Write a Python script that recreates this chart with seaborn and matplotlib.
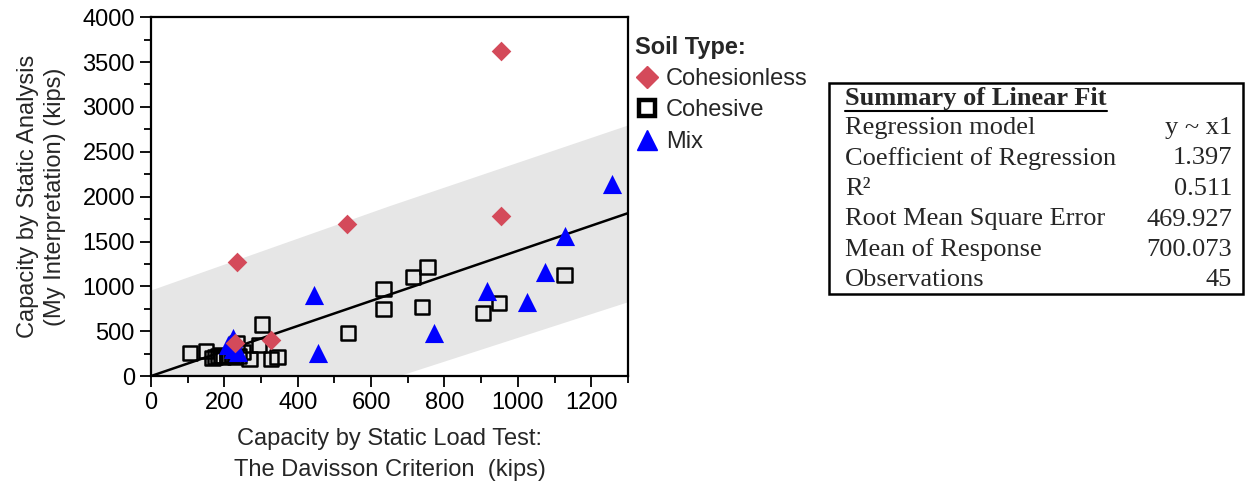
import numpy as np
import pandas as pd
import seaborn as sns
import matplotlib.pyplot as plt
from matplotlib.patches import Rectangle
from matplotlib.lines import Line2D
from matplotlib.ticker import MultipleLocator

sns.set_style("ticks")
plt.rcParams['font.family'] = ['Liberation Sans', 'DejaVu Sans']

# Cohesionless (diamonds)
cl_x = [955, 955, 535, 234, 327, 228]
cl_y = [3620, 1780, 1690, 1270, 402, 365]

# Cohesive (open squares)
co_x = [107, 150, 168, 182, 196, 207, 235, 250, 241, 269, 295, 302, 328, 345,
        537, 634, 634, 715, 754, 738, 905, 948, 1127, 175, 190, 220, 230]
co_y = [260, 280, 198, 223, 216, 223, 365, 272, 223, 190, 346, 575, 190, 212,
        477, 969, 745, 1103, 1214, 767, 700, 812, 1125, 210, 230, 240, 210]

# Mix (triangles)
mx_x = [1257, 1128, 1074, 1025, 917, 772, 444, 455, 223, 210, 237, 225]
mx_y = [2142, 1564, 1165, 830, 950, 484, 905, 260, 421, 346, 272, 300]

# fit line and prediction band
slope = 1.397
fit_x = [0, 1300]
band_x = [0, 650, 1300]
band_lo = [-960, -30, 830]
band_hi = [960, 1900, 2800]

summary_labels = ["Regression model", "Coefficient of Regression", "R²",
                  "Root Mean Square Error", "Mean of Response", "Observations"]
summary_values = ["y ~ x1", "1.397", "0.511", "469.927", "700.073", "45"]

df = pd.concat([
    pd.DataFrame({"x": cl_x, "y": cl_y, "soil": "Cohesionless"}),
    pd.DataFrame({"x": co_x, "y": co_y, "soil": "Cohesive"}),
    pd.DataFrame({"x": mx_x, "y": mx_y, "soil": "Mix"}),
])

fs = 17
fig = plt.figure(figsize=(12.47, 4.91), dpi=100)
ax = fig.add_axes([0.121, 0.234, 0.3826, 0.731])

ax.fill_between(band_x, band_lo, band_hi, color="#e6e6e6", lw=0, zorder=0)
fit = pd.DataFrame({"x": fit_x, "y": [slope * v for v in fit_x]})
sns.lineplot(data=fit, x="x", y="y", color="black", lw=1.8, ax=ax, zorder=2)

sns.scatterplot(data=df[df.soil == "Cohesive"], x="x", y="y", marker="s", s=105,
                facecolor="none", edgecolor="black", linewidth=1.8, ax=ax, zorder=3)
sns.scatterplot(data=df[df.soil == "Mix"], x="x", y="y", marker="^", s=190,
                color="#0000ff", edgecolor="#0000ff", linewidth=0, ax=ax, zorder=4)
sns.scatterplot(data=df[df.soil == "Cohesionless"], x="x", y="y", marker="D", s=100,
                color="#d44a5a", edgecolor="#d44a5a", linewidth=0, ax=ax, zorder=5)

ax.set_xlim(0, 1300)
ax.set_ylim(0, 4000)
ax.xaxis.set_major_locator(MultipleLocator(200))
ax.xaxis.set_minor_locator(MultipleLocator(100))
ax.yaxis.set_major_locator(MultipleLocator(500))
ax.yaxis.set_minor_locator(MultipleLocator(250))
ax.tick_params(which="both", direction="out", width=1.3, colors="black", labelsize=fs)
ax.tick_params(which="major", length=8)
ax.tick_params(which="minor", length=5, labelleft=False, labelbottom=False)
ax.set_xticks([0, 200, 400, 600, 800, 1000, 1200])
for s in ax.spines.values():
    s.set_linewidth(1.6)
    s.set_color("black")

ax.set_xlabel("Capacity by Static Load Test:\nThe Davisson Criterion  (kips)",
              fontsize=fs, linespacing=1.55, labelpad=10)
ax.set_ylabel("Capacity by Static Analysis\n(My Interpretation) (kips)",
              fontsize=fs, linespacing=1.3, labelpad=12)

handles = [
    Line2D([], [], ls="", marker="D", ms=11, color="#d44a5a", mec="#d44a5a"),
    Line2D([], [], ls="", marker="s", ms=12, mfc="white", mec="black", mew=3.2),
    Line2D([], [], ls="", marker="^", ms=15, color="#0000ff", mec="#0000ff"),
]
leg = ax.legend(handles, ["Cohesionless", "Cohesive", "Mix"], title="Soil Type:",
                loc="upper left", bbox_to_anchor=(0.98, 0.995), frameon=False,
                fontsize=fs, title_fontproperties={"weight": "bold", "size": fs},
                handletextpad=0.3, borderaxespad=0.3, labelspacing=0.4, handlelength=1.0)
leg._legend_box.align = "left"

# summary table
W, H = 1247, 491
fig.patches.append(Rectangle((829 / W, 1 - 294 / H), (1243 - 829) / W, (294 - 83) / H,
                             transform=fig.transFigure, fill=False, ec="black", lw=1.8))
serif = ["Liberation Serif", "DejaVu Serif"]
fig.text(845 / W, 1 - 98 / H, "Summary of Linear Fit", family=serif, fontsize=19,
         weight="bold", va="center", ha="left")
fig.add_artist(Line2D([845 / W, 1107 / W], [1 - 111 / H, 1 - 111 / H],
                      transform=fig.transFigure, color="black", lw=1.5))
for i, (lab, val) in enumerate(zip(summary_labels, summary_values)):
    yy = 1 - (128 + i * 30.5) / H
    fig.text(845 / W, yy, lab, family=serif, fontsize=19, va="center", ha="left")
    fig.text(1232 / W, yy, val, family=serif, fontsize=19, va="center", ha="right")

fig.savefig("out.png", dpi=100)
